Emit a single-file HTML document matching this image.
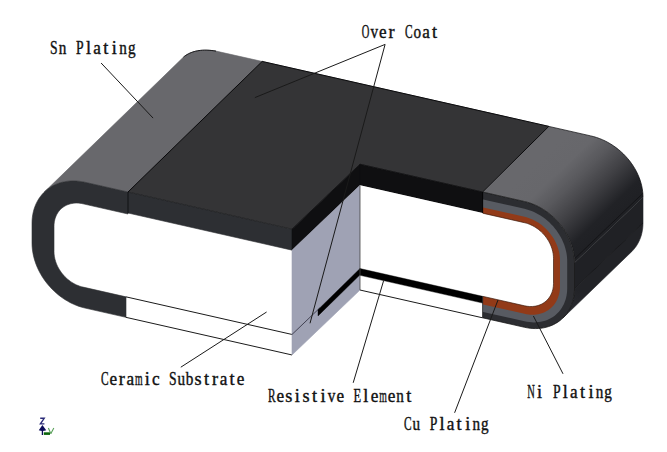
<!DOCTYPE html><html><head><meta charset="utf-8"><style>html,body{margin:0;padding:0;background:#fff;width:667px;height:452px;overflow:hidden}svg{display:block}</style></head><body><svg width="667" height="452" viewBox="0 0 667 452"><defs><linearGradient id="gR" gradientUnits="userSpaceOnUse" x1="502.6" y1="196.5" x2="570.7" y2="266.5"><stop offset="0" stop-color="#68686c"/><stop offset="0.22" stop-color="#67676b"/><stop offset="0.4" stop-color="#58585c"/><stop offset="0.61" stop-color="#404044"/><stop offset="0.85" stop-color="#212226"/><stop offset="1" stop-color="#1f2024"/></linearGradient><linearGradient id="gB" gradientUnits="userSpaceOnUse" x1="574.5" y1="288.6" x2="562.9" y2="318.0"><stop offset="0" stop-color="#222327"/><stop offset="1" stop-color="#2c2d32"/></linearGradient><clipPath id="cpR"><polygon points="482.00,181.87 796.00,253.02 796.00,463.02 482.00,391.87"/></clipPath></defs><rect width="667" height="452" fill="#fff"/>
<polygon points="128.00,192.00 85.00,182.26 83.34,181.91 81.69,181.61 80.03,181.36 78.39,181.17 76.74,181.03 75.11,180.95 73.49,180.91 71.87,180.93 70.27,181.01 68.69,181.13 67.12,181.31 65.57,181.54 64.04,181.83 62.52,182.16 61.03,182.55 59.57,182.99 58.12,183.49 56.71,184.03 55.32,184.62 53.96,185.26 52.63,185.95 51.34,186.69 50.07,187.48 48.84,188.31 47.65,189.19 46.49,190.11 45.37,191.08 44.29,192.09 183.50,57.10 184.67,56.18 185.90,55.33 187.16,54.54 188.48,53.82 189.84,53.16 191.25,52.57 192.71,52.04 194.22,51.58 195.77,51.18 197.38,50.85 199.02,50.58 200.72,50.38 202.46,50.24 204.25,50.17 206.09,50.16 207.98,50.22 209.91,50.34 211.90,50.53 213.92,50.78 216.00,51.10 262.20,61.46" fill="#68686c" stroke="#68686c" stroke-width="0.60" stroke-linejoin="round" />
<polygon points="128.00,192.00 292.00,229.16 360.00,164.22 482.60,192.00 548.80,126.40 262.20,61.46" fill="#343436" stroke="#343436" stroke-width="0.60" stroke-linejoin="round" />
<polygon points="482.60,192.00 524.50,201.50 527.30,202.21 530.10,203.08 532.88,204.10 535.63,205.27 538.34,206.59 541.01,208.05 543.63,209.64 546.19,211.37 548.69,213.22 551.10,215.19 553.43,217.28 555.67,219.47 557.82,221.77 559.86,224.15 561.78,226.63 563.59,229.18 565.28,231.80 566.84,234.49 568.26,237.23 569.55,240.01 570.69,242.83 571.69,245.68 572.55,248.54 573.25,251.42 573.79,254.29 574.19,257.16 574.42,260.01 574.50,262.83 643.00,197.22 642.92,194.40 642.67,191.55 642.26,188.69 641.69,185.81 640.96,182.94 640.07,180.07 639.02,177.23 637.82,174.41 636.47,171.62 634.98,168.89 633.35,166.20 631.59,163.58 629.70,161.02 627.68,158.55 625.55,156.16 623.31,153.87 620.96,151.67 618.53,149.59 616.00,147.61 613.39,145.76 610.71,144.04 607.97,142.44 605.18,140.98 602.34,139.67 599.46,138.50 596.56,137.48 593.63,136.61 590.70,135.89 548.80,126.40" fill="url(#gR)" />
<polygon points="574.50,262.83 574.50,288.63 643.00,223.02 643.00,197.22" fill="#202125" stroke="#202125" stroke-width="0.60" stroke-linejoin="round" />
<polygon points="574.50,288.63 574.48,289.87 574.44,291.09 574.36,292.32 574.25,293.53 574.12,294.73 573.95,295.92 573.75,297.10 573.52,298.27 573.26,299.42 572.97,300.56 572.65,301.69 572.30,302.80 571.92,303.90 571.51,304.98 571.08,306.04 570.61,307.08 570.12,308.11 569.59,309.12 569.04,310.10 568.47,311.07 567.86,312.02 567.23,312.94 566.57,313.85 565.89,314.73 565.18,315.59 564.45,316.42 563.69,317.23 562.91,318.02 630.87,252.41 631.69,251.63 632.48,250.82 633.25,249.98 633.99,249.12 634.71,248.24 635.40,247.34 636.06,246.41 636.69,245.47 637.29,244.50 637.87,243.51 638.41,242.51 638.93,241.48 639.42,240.43 639.87,239.37 640.30,238.29 640.70,237.20 641.06,236.09 641.40,234.96 641.70,233.82 641.97,232.66 642.21,231.50 642.42,230.32 642.60,229.13 642.74,227.92 642.86,226.71 642.94,225.49 642.98,224.26 643.00,223.02" fill="url(#gB)" stroke="url(#gB)" stroke-width="0.60" stroke-linejoin="round" />
<polyline points="574.50,258.83 643.00,193.22" fill="none" stroke="#0a0a0c" stroke-width="0.80" stroke-linejoin="round" opacity="0.7"/>
<polyline points="574.50,288.63 643.00,223.02" fill="none" stroke="#0a0a0c" stroke-width="0.80" stroke-linejoin="round" opacity="0.7"/>
<polygon points="128.00,192.00 85.00,182.26 82.03,181.67 79.07,181.24 76.12,180.99 73.21,180.91 70.33,181.00 67.50,181.26 64.72,181.69 62.00,182.29 59.36,183.06 56.80,183.99 54.33,185.08 51.96,186.33 49.68,187.73 47.52,189.29 45.48,190.98 43.56,192.82 41.78,194.79 40.12,196.89 38.61,199.11 37.25,201.44 36.03,203.88 34.97,206.42 34.07,209.04 33.33,211.75 32.75,214.54 32.33,217.39 32.08,220.29 32.00,223.25 32.00,243.05 32.08,246.04 32.33,249.06 32.75,252.09 33.33,255.14 34.07,258.19 34.97,261.23 36.03,264.24 37.25,267.23 38.61,270.18 40.12,273.08 41.78,275.93 43.56,278.71 45.48,281.42 47.52,284.04 49.68,286.57 51.96,289.01 54.33,291.33 56.80,293.54 59.36,295.63 62.00,297.60 64.72,299.43 67.50,301.12 70.33,302.66 73.21,304.05 76.12,305.30 79.07,306.38 82.03,307.30 85.00,308.06 126.00,317.35 126.00,296.85 83.00,287.10 81.37,286.69 79.75,286.18 78.14,285.59 76.55,284.91 74.97,284.15 73.42,283.31 71.90,282.38 70.42,281.38 68.97,280.31 67.57,279.16 66.22,277.95 64.92,276.68 63.68,275.35 62.49,273.96 61.38,272.53 60.33,271.05 59.35,269.53 58.44,267.97 57.62,266.38 56.87,264.77 56.21,263.13 55.63,261.48 55.13,259.82 54.73,258.15 54.41,256.48 54.18,254.82 54.05,253.17 54.00,251.53 54.00,226.23 54.05,224.62 54.18,223.03 54.41,221.47 54.73,219.94 55.13,218.46 55.63,217.02 56.21,215.63 56.87,214.30 57.62,213.02 58.44,211.81 59.35,210.66 60.33,209.58 61.38,208.58 62.49,207.65 63.68,206.80 64.92,206.03 66.22,205.35 67.57,204.75 68.97,204.24 70.42,203.82 71.90,203.50 73.42,203.26 74.97,203.12 76.55,203.07 78.14,203.11 79.75,203.25 81.37,203.48 83.00,203.80 128.00,214.00" fill="#2d2f33" stroke="#2d2f33" stroke-width="0.60" stroke-linejoin="round" />
<polygon points="128.00,192.00 292.00,229.16 292.00,250.16 128.00,213.00" fill="#2d2f33" stroke="#2d2f33" stroke-width="0.60" stroke-linejoin="round" />
<polyline points="126.00,296.85 292.00,334.46" fill="none" stroke="#000" stroke-width="0.90" stroke-linejoin="round" />
<polyline points="126.00,317.35 292.00,354.96" fill="none" stroke="#000" stroke-width="0.90" stroke-linejoin="round" />
<polyline points="128.00,192.00 128.00,213.00" fill="none" stroke="#0a0a0c" stroke-width="0.80" stroke-linejoin="round" />
<polygon points="292.00,229.16 292.00,250.16 360.00,185.22 360.00,164.22" fill="#0f0f11" stroke="#0f0f11" stroke-width="0.60" stroke-linejoin="round" />
<polygon points="292.00,250.16 292.00,354.96 360.00,290.02 360.00,185.22" fill="#9fa2b4" stroke="#9fa2b4" stroke-width="0.60" stroke-linejoin="round" />
<polyline points="292.00,334.46 320.00,307.72" fill="none" stroke="#2a2a3a" stroke-width="0.80" stroke-linejoin="round" />
<polygon points="318.00,309.63 318.00,315.93 360.00,274.82 360.00,268.52" fill="#000" stroke="#000" stroke-width="0.40" stroke-linejoin="round" />
<g clip-path="url(#cpR)"><polygon points="446.00,183.71 524.50,201.50 527.30,202.21 530.10,203.08 532.88,204.10 535.63,205.27 538.34,206.59 541.01,208.05 543.63,209.64 546.19,211.37 548.69,213.22 551.10,215.19 553.43,217.28 555.67,219.47 557.82,221.77 559.86,224.15 561.78,226.63 563.59,229.18 565.28,231.80 566.84,234.49 568.26,237.23 569.55,240.01 570.69,242.83 571.69,245.68 572.55,248.54 573.25,251.42 573.79,254.29 574.19,257.16 574.42,260.01 574.50,262.83 574.50,288.63 574.42,291.41 574.19,294.16 573.79,296.84 573.25,299.47 572.55,302.03 571.69,304.51 570.69,306.90 569.55,309.20 568.26,311.40 566.84,313.49 565.28,315.47 563.59,317.33 561.78,319.06 559.86,320.66 557.82,322.13 555.67,323.45 553.43,324.63 551.10,325.66 548.69,326.54 546.19,327.26 543.63,327.83 541.01,328.23 538.34,328.48 535.63,328.57 532.88,328.49 530.10,328.25 527.30,327.85 524.50,327.30 446.00,309.51" fill="#2c2d31" /><polygon points="446.00,191.01 524.50,208.80 526.89,209.41 529.28,210.15 531.65,211.02 534.00,212.02 536.32,213.15 538.60,214.39 540.84,215.75 543.03,217.22 545.15,218.81 547.22,220.49 549.21,222.27 551.12,224.15 552.95,226.11 554.69,228.15 556.34,230.26 557.88,232.44 559.32,234.68 560.66,236.97 561.87,239.31 562.97,241.69 563.95,244.10 564.80,246.53 565.53,248.97 566.13,251.43 566.60,253.88 566.93,256.33 567.13,258.76 567.20,261.17 567.20,288.27 567.13,290.65 566.93,292.99 566.60,295.29 566.13,297.53 565.53,299.72 564.80,301.83 563.95,303.88 562.97,305.84 561.87,307.72 560.66,309.51 559.32,311.20 557.88,312.79 556.34,314.27 554.69,315.63 552.95,316.88 551.12,318.02 549.21,319.02 547.22,319.90 545.15,320.65 543.03,321.27 540.84,321.75 538.60,322.10 536.32,322.31 534.00,322.38 531.65,322.32 529.28,322.11 526.89,321.77 524.50,321.30 446.00,303.51" fill="#585b62" /><polygon points="446.00,199.01 524.50,216.80 526.49,217.30 528.47,217.92 530.45,218.65 532.40,219.48 534.33,220.41 536.22,221.45 538.09,222.58 539.90,223.80 541.67,225.12 543.39,226.52 545.04,228.00 546.63,229.56 548.16,231.19 549.60,232.88 550.97,234.64 552.26,236.45 553.45,238.32 554.56,240.22 555.57,242.17 556.48,244.14 557.30,246.14 558.01,248.17 558.61,250.20 559.11,252.24 559.50,254.28 559.78,256.32 559.94,258.34 560.00,260.34 560.00,286.34 559.94,288.32 559.78,290.27 559.50,292.18 559.11,294.04 558.61,295.86 558.01,297.62 557.30,299.32 556.48,300.95 555.57,302.51 554.56,304.00 553.45,305.40 552.26,306.72 550.97,307.95 549.60,309.09 548.16,310.13 546.63,311.07 545.04,311.91 543.39,312.64 541.67,313.26 539.90,313.77 538.09,314.17 536.22,314.46 534.33,314.64 532.40,314.70 530.45,314.64 528.47,314.48 526.49,314.19 524.50,313.80 446.00,296.01" fill="#923a18" /></g>
<polygon points="360.00,185.42 524.50,222.70 526.13,223.11 527.75,223.62 529.36,224.21 530.95,224.89 532.53,225.65 534.08,226.50 535.60,227.42 537.08,228.42 538.53,229.50 539.93,230.64 541.28,231.85 542.58,233.12 543.82,234.45 545.01,235.84 546.12,237.27 547.17,238.75 548.15,240.28 549.06,241.83 549.88,243.42 550.63,245.04 551.29,246.67 551.87,248.32 552.37,249.98 552.77,251.65 553.09,253.32 553.32,254.98 553.45,256.63 553.50,258.27 553.50,283.37 553.45,284.99 553.32,286.58 553.09,288.13 552.77,289.66 552.37,291.14 551.87,292.58 551.29,293.97 550.63,295.30 549.88,296.58 549.06,297.79 548.15,298.94 547.17,300.02 546.12,301.02 545.01,301.95 543.82,302.80 542.58,303.57 541.28,304.25 539.93,304.85 538.53,305.36 537.08,305.78 535.60,306.11 534.08,306.34 532.53,306.48 530.95,306.53 529.36,306.49 527.75,306.35 526.13,306.12 524.50,305.80 360.00,268.52" fill="#ffffff" />
<polyline points="482.60,213.20 524.50,222.70 526.13,223.11 527.75,223.62 529.36,224.21 530.95,224.89 532.53,225.65 534.08,226.50 535.60,227.42 537.08,228.42 538.53,229.50 539.93,230.64 541.28,231.85 542.58,233.12 543.82,234.45 545.01,235.84 546.12,237.27 547.17,238.75 548.15,240.28 549.06,241.83 549.88,243.42 550.63,245.04 551.29,246.67 551.87,248.32 552.37,249.98 552.77,251.65 553.09,253.32 553.32,254.98 553.45,256.63 553.50,258.27 553.50,283.37 553.45,284.99 553.32,286.58 553.09,288.13 552.77,289.66 552.37,291.14 551.87,292.58 551.29,293.97 550.63,295.30 549.88,296.58 549.06,297.79 548.15,298.94 547.17,300.02 546.12,301.02 545.01,301.95 543.82,302.80 542.58,303.57 541.28,304.25 539.93,304.85 538.53,305.36 537.08,305.78 535.60,306.11 534.08,306.34 532.53,306.48 530.95,306.53 529.36,306.49 527.75,306.35 526.13,306.12 524.50,305.80 482.60,296.30" fill="none" stroke="#3a1a0c" stroke-width="0.90" stroke-linejoin="round" opacity="0.75"/>
<polyline points="482.60,192.00 524.50,201.50 527.30,202.21 530.10,203.08 532.88,204.10 535.63,205.27 538.34,206.59 541.01,208.05 543.63,209.64 546.19,211.37 548.69,213.22 551.10,215.19 553.43,217.28 555.67,219.47 557.82,221.77 559.86,224.15 561.78,226.63 563.59,229.18 565.28,231.80 566.84,234.49 568.26,237.23 569.55,240.01 570.69,242.83 571.69,245.68 572.55,248.54 573.25,251.42 573.79,254.29 574.19,257.16 574.42,260.01 574.50,262.83 574.50,288.63 574.42,291.41 574.19,294.16 573.79,296.84 573.25,299.47 572.55,302.03 571.69,304.51 570.69,306.90 569.55,309.20 568.26,311.40 566.84,313.49 565.28,315.47 563.59,317.33 561.78,319.06 559.86,320.66 557.82,322.13 555.67,323.45 553.43,324.63 551.10,325.66 548.69,326.54 546.19,327.26 543.63,327.83 541.01,328.23 538.34,328.48 535.63,328.57 532.88,328.49 530.10,328.25 527.30,327.85 524.50,327.30 482.60,317.80" fill="none" stroke="#111" stroke-width="0.90" stroke-linejoin="round" opacity="0.8"/>
<polygon points="360.00,164.22 482.60,192.00 482.60,213.00 360.00,185.22" fill="#0f0f11" stroke="#0f0f11" stroke-width="0.60" stroke-linejoin="round" />
<polyline points="482.60,192.00 482.60,213.00" fill="none" stroke="#000" stroke-width="0.80" stroke-linejoin="round" />
<polygon points="360.00,185.22 482.60,213.00 482.60,317.80 360.00,290.02" fill="#ffffff" />
<polygon points="360.00,268.52 482.60,296.30 482.60,303.10 360.00,275.32" fill="#000" stroke="#000" stroke-width="0.40" stroke-linejoin="round" />
<polyline points="360.00,290.02 482.60,317.80" fill="none" stroke="#000" stroke-width="0.90" stroke-linejoin="round" />
<polyline points="360.00,185.22 360.00,290.02" fill="none" stroke="#444" stroke-width="0.80" stroke-linejoin="round" />
<polyline points="482.60,296.30 482.60,317.80" fill="none" stroke="#222" stroke-width="0.80" stroke-linejoin="round" />
<polyline points="262.20,61.46 548.80,126.40" fill="none" stroke="#0a0a0c" stroke-width="1.00" stroke-linejoin="round" />
<polyline points="183.50,57.10 184.67,56.18 185.90,55.33 187.16,54.54 188.48,53.82 189.84,53.16 191.25,52.57 192.71,52.04 194.22,51.58 195.77,51.18 197.38,50.85 199.02,50.58 200.72,50.38 202.46,50.24 204.25,50.17 206.09,50.16 207.98,50.22 209.91,50.34 211.90,50.53 213.92,50.78 216.00,51.10" fill="none" stroke="#0a0a0c" stroke-width="0.90" stroke-linejoin="round" />
<polyline points="128.00,192.00 262.20,61.46" fill="none" stroke="#0a0a0c" stroke-width="1.00" stroke-linejoin="round" />
<polyline points="482.60,192.00 548.80,126.40" fill="none" stroke="#0a0a0c" stroke-width="1.00" stroke-linejoin="round" />
<polyline points="128.00,192.00 292.00,229.16" fill="none" stroke="#0a0a0c" stroke-width="0.60" stroke-linejoin="round" opacity="0.6"/>
<polyline points="292.00,229.16 360.00,164.22 482.60,192.00" fill="none" stroke="#0a0a0c" stroke-width="0.70" stroke-linejoin="round" opacity="0.7"/>
<polyline points="643.00,197.22 642.92,194.40 642.67,191.55 642.26,188.69 641.69,185.81 640.96,182.94 640.07,180.07 639.02,177.23 637.82,174.41 636.47,171.62 634.98,168.89 633.35,166.20 631.59,163.58 629.70,161.02 627.68,158.55 625.55,156.16 623.31,153.87 620.96,151.67 618.53,149.59 616.00,147.61 613.39,145.76 610.71,144.04 607.97,142.44 605.18,140.98 602.34,139.67 599.46,138.50 596.56,137.48 593.63,136.61 590.70,135.89 548.80,126.40" fill="none" stroke="#0a0a0c" stroke-width="0.90" stroke-linejoin="round" opacity="0.8"/>
<line x1="101.1" y1="63.0" x2="153.1" y2="118.1" stroke="#1a1a1a" stroke-width="1"/>
<line x1="385.1" y1="44.4" x2="254.9" y2="97.6" stroke="#1a1a1a" stroke-width="1"/>
<line x1="385.1" y1="44.4" x2="310.0" y2="323.3" stroke="#1a1a1a" stroke-width="1"/>
<line x1="266.6" y1="312.0" x2="180.8" y2="367.2" stroke="#1a1a1a" stroke-width="1"/>
<line x1="383.7" y1="280.4" x2="353.2" y2="382.8" stroke="#1a1a1a" stroke-width="1"/>
<line x1="498.0" y1="300.0" x2="454.6" y2="412.8" stroke="#1a1a1a" stroke-width="1"/>
<line x1="533.4" y1="316.0" x2="563.0" y2="373.8" stroke="#1a1a1a" stroke-width="1"/>
<text transform="translate(53.92,53.90) scale(0.751,1)" text-anchor="middle" font-family="Liberation Serif" font-size="18.2" fill="#111" stroke="#111" stroke-width="0.4">S</text>
<text transform="translate(62.56,53.90) scale(0.835,1)" text-anchor="middle" font-family="Liberation Serif" font-size="18.2" fill="#111" stroke="#111" stroke-width="0.4">n</text>
<text transform="translate(79.84,53.90) scale(0.751,1)" text-anchor="middle" font-family="Liberation Serif" font-size="18.2" fill="#111" stroke="#111" stroke-width="0.4">P</text>
<text transform="translate(88.48,53.90) scale(1.000,1)" text-anchor="middle" font-family="Liberation Serif" font-size="18.2" fill="#111" stroke="#111" stroke-width="0.4">l</text>
<text transform="translate(97.12,53.90) scale(0.941,1)" text-anchor="middle" font-family="Liberation Serif" font-size="18.2" fill="#111" stroke="#111" stroke-width="0.4">a</text>
<text transform="translate(105.76,53.90) scale(1.000,1)" text-anchor="middle" font-family="Liberation Serif" font-size="18.2" fill="#111" stroke="#111" stroke-width="0.4">t</text>
<text transform="translate(114.40,53.90) scale(1.000,1)" text-anchor="middle" font-family="Liberation Serif" font-size="18.2" fill="#111" stroke="#111" stroke-width="0.4">i</text>
<text transform="translate(123.04,53.90) scale(0.835,1)" text-anchor="middle" font-family="Liberation Serif" font-size="18.2" fill="#111" stroke="#111" stroke-width="0.4">n</text>
<text transform="translate(131.68,53.90) scale(0.835,1)" text-anchor="middle" font-family="Liberation Serif" font-size="18.2" fill="#111" stroke="#111" stroke-width="0.4">g</text>
<text transform="translate(365.61,37.90) scale(0.578,1)" text-anchor="middle" font-family="Liberation Serif" font-size="18.2" fill="#111" stroke="#111" stroke-width="0.4">O</text>
<text transform="translate(374.23,37.90) scale(0.835,1)" text-anchor="middle" font-family="Liberation Serif" font-size="18.2" fill="#111" stroke="#111" stroke-width="0.4">v</text>
<text transform="translate(382.86,37.90) scale(0.941,1)" text-anchor="middle" font-family="Liberation Serif" font-size="18.2" fill="#111" stroke="#111" stroke-width="0.4">e</text>
<text transform="translate(391.48,37.90) scale(1.000,1)" text-anchor="middle" font-family="Liberation Serif" font-size="18.2" fill="#111" stroke="#111" stroke-width="0.4">r</text>
<text transform="translate(408.72,37.90) scale(0.626,1)" text-anchor="middle" font-family="Liberation Serif" font-size="18.2" fill="#111" stroke="#111" stroke-width="0.4">C</text>
<text transform="translate(417.34,37.90) scale(0.835,1)" text-anchor="middle" font-family="Liberation Serif" font-size="18.2" fill="#111" stroke="#111" stroke-width="0.4">o</text>
<text transform="translate(425.97,37.90) scale(0.941,1)" text-anchor="middle" font-family="Liberation Serif" font-size="18.2" fill="#111" stroke="#111" stroke-width="0.4">a</text>
<text transform="translate(434.59,37.90) scale(1.000,1)" text-anchor="middle" font-family="Liberation Serif" font-size="18.2" fill="#111" stroke="#111" stroke-width="0.4">t</text>
<text transform="translate(104.84,385.30) scale(0.626,1)" text-anchor="middle" font-family="Liberation Serif" font-size="18.2" fill="#111" stroke="#111" stroke-width="0.4">C</text>
<text transform="translate(113.32,385.30) scale(0.941,1)" text-anchor="middle" font-family="Liberation Serif" font-size="18.2" fill="#111" stroke="#111" stroke-width="0.4">e</text>
<text transform="translate(121.81,385.30) scale(1.000,1)" text-anchor="middle" font-family="Liberation Serif" font-size="18.2" fill="#111" stroke="#111" stroke-width="0.4">r</text>
<text transform="translate(130.29,385.30) scale(0.941,1)" text-anchor="middle" font-family="Liberation Serif" font-size="18.2" fill="#111" stroke="#111" stroke-width="0.4">a</text>
<text transform="translate(138.77,385.30) scale(0.537,1)" text-anchor="middle" font-family="Liberation Serif" font-size="18.2" fill="#111" stroke="#111" stroke-width="0.4">m</text>
<text transform="translate(147.25,385.30) scale(1.000,1)" text-anchor="middle" font-family="Liberation Serif" font-size="18.2" fill="#111" stroke="#111" stroke-width="0.4">i</text>
<text transform="translate(155.74,385.30) scale(0.941,1)" text-anchor="middle" font-family="Liberation Serif" font-size="18.2" fill="#111" stroke="#111" stroke-width="0.4">c</text>
<text transform="translate(172.70,385.30) scale(0.751,1)" text-anchor="middle" font-family="Liberation Serif" font-size="18.2" fill="#111" stroke="#111" stroke-width="0.4">S</text>
<text transform="translate(181.18,385.30) scale(0.835,1)" text-anchor="middle" font-family="Liberation Serif" font-size="18.2" fill="#111" stroke="#111" stroke-width="0.4">u</text>
<text transform="translate(189.66,385.30) scale(0.835,1)" text-anchor="middle" font-family="Liberation Serif" font-size="18.2" fill="#111" stroke="#111" stroke-width="0.4">b</text>
<text transform="translate(198.15,385.30) scale(1.000,1)" text-anchor="middle" font-family="Liberation Serif" font-size="18.2" fill="#111" stroke="#111" stroke-width="0.4">s</text>
<text transform="translate(206.63,385.30) scale(1.000,1)" text-anchor="middle" font-family="Liberation Serif" font-size="18.2" fill="#111" stroke="#111" stroke-width="0.4">t</text>
<text transform="translate(215.11,385.30) scale(1.000,1)" text-anchor="middle" font-family="Liberation Serif" font-size="18.2" fill="#111" stroke="#111" stroke-width="0.4">r</text>
<text transform="translate(223.59,385.30) scale(0.941,1)" text-anchor="middle" font-family="Liberation Serif" font-size="18.2" fill="#111" stroke="#111" stroke-width="0.4">a</text>
<text transform="translate(232.08,385.30) scale(1.000,1)" text-anchor="middle" font-family="Liberation Serif" font-size="18.2" fill="#111" stroke="#111" stroke-width="0.4">t</text>
<text transform="translate(240.56,385.30) scale(0.941,1)" text-anchor="middle" font-family="Liberation Serif" font-size="18.2" fill="#111" stroke="#111" stroke-width="0.4">e</text>
<text transform="translate(271.68,401.60) scale(0.626,1)" text-anchor="middle" font-family="Liberation Serif" font-size="18.2" fill="#111" stroke="#111" stroke-width="0.4">R</text>
<text transform="translate(280.25,401.60) scale(0.941,1)" text-anchor="middle" font-family="Liberation Serif" font-size="18.2" fill="#111" stroke="#111" stroke-width="0.4">e</text>
<text transform="translate(288.81,401.60) scale(1.000,1)" text-anchor="middle" font-family="Liberation Serif" font-size="18.2" fill="#111" stroke="#111" stroke-width="0.4">s</text>
<text transform="translate(297.38,401.60) scale(1.000,1)" text-anchor="middle" font-family="Liberation Serif" font-size="18.2" fill="#111" stroke="#111" stroke-width="0.4">i</text>
<text transform="translate(305.94,401.60) scale(1.000,1)" text-anchor="middle" font-family="Liberation Serif" font-size="18.2" fill="#111" stroke="#111" stroke-width="0.4">s</text>
<text transform="translate(314.51,401.60) scale(1.000,1)" text-anchor="middle" font-family="Liberation Serif" font-size="18.2" fill="#111" stroke="#111" stroke-width="0.4">t</text>
<text transform="translate(323.07,401.60) scale(1.000,1)" text-anchor="middle" font-family="Liberation Serif" font-size="18.2" fill="#111" stroke="#111" stroke-width="0.4">i</text>
<text transform="translate(331.64,401.60) scale(0.835,1)" text-anchor="middle" font-family="Liberation Serif" font-size="18.2" fill="#111" stroke="#111" stroke-width="0.4">v</text>
<text transform="translate(340.20,401.60) scale(0.941,1)" text-anchor="middle" font-family="Liberation Serif" font-size="18.2" fill="#111" stroke="#111" stroke-width="0.4">e</text>
<text transform="translate(357.33,401.60) scale(0.684,1)" text-anchor="middle" font-family="Liberation Serif" font-size="18.2" fill="#111" stroke="#111" stroke-width="0.4">E</text>
<text transform="translate(365.89,401.60) scale(1.000,1)" text-anchor="middle" font-family="Liberation Serif" font-size="18.2" fill="#111" stroke="#111" stroke-width="0.4">l</text>
<text transform="translate(374.46,401.60) scale(0.941,1)" text-anchor="middle" font-family="Liberation Serif" font-size="18.2" fill="#111" stroke="#111" stroke-width="0.4">e</text>
<text transform="translate(383.02,401.60) scale(0.537,1)" text-anchor="middle" font-family="Liberation Serif" font-size="18.2" fill="#111" stroke="#111" stroke-width="0.4">m</text>
<text transform="translate(391.59,401.60) scale(0.941,1)" text-anchor="middle" font-family="Liberation Serif" font-size="18.2" fill="#111" stroke="#111" stroke-width="0.4">e</text>
<text transform="translate(400.15,401.60) scale(0.835,1)" text-anchor="middle" font-family="Liberation Serif" font-size="18.2" fill="#111" stroke="#111" stroke-width="0.4">n</text>
<text transform="translate(408.72,401.60) scale(1.000,1)" text-anchor="middle" font-family="Liberation Serif" font-size="18.2" fill="#111" stroke="#111" stroke-width="0.4">t</text>
<text transform="translate(531.08,397.70) scale(0.578,1)" text-anchor="middle" font-family="Liberation Serif" font-size="18.2" fill="#111" stroke="#111" stroke-width="0.4">N</text>
<text transform="translate(539.64,397.70) scale(1.000,1)" text-anchor="middle" font-family="Liberation Serif" font-size="18.2" fill="#111" stroke="#111" stroke-width="0.4">i</text>
<text transform="translate(556.76,397.70) scale(0.751,1)" text-anchor="middle" font-family="Liberation Serif" font-size="18.2" fill="#111" stroke="#111" stroke-width="0.4">P</text>
<text transform="translate(565.32,397.70) scale(1.000,1)" text-anchor="middle" font-family="Liberation Serif" font-size="18.2" fill="#111" stroke="#111" stroke-width="0.4">l</text>
<text transform="translate(573.88,397.70) scale(0.941,1)" text-anchor="middle" font-family="Liberation Serif" font-size="18.2" fill="#111" stroke="#111" stroke-width="0.4">a</text>
<text transform="translate(582.44,397.70) scale(1.000,1)" text-anchor="middle" font-family="Liberation Serif" font-size="18.2" fill="#111" stroke="#111" stroke-width="0.4">t</text>
<text transform="translate(591.00,397.70) scale(1.000,1)" text-anchor="middle" font-family="Liberation Serif" font-size="18.2" fill="#111" stroke="#111" stroke-width="0.4">i</text>
<text transform="translate(599.56,397.70) scale(0.835,1)" text-anchor="middle" font-family="Liberation Serif" font-size="18.2" fill="#111" stroke="#111" stroke-width="0.4">n</text>
<text transform="translate(608.12,397.70) scale(0.835,1)" text-anchor="middle" font-family="Liberation Serif" font-size="18.2" fill="#111" stroke="#111" stroke-width="0.4">g</text>
<text transform="translate(407.78,429.80) scale(0.626,1)" text-anchor="middle" font-family="Liberation Serif" font-size="18.2" fill="#111" stroke="#111" stroke-width="0.4">C</text>
<text transform="translate(416.34,429.80) scale(0.835,1)" text-anchor="middle" font-family="Liberation Serif" font-size="18.2" fill="#111" stroke="#111" stroke-width="0.4">u</text>
<text transform="translate(433.46,429.80) scale(0.751,1)" text-anchor="middle" font-family="Liberation Serif" font-size="18.2" fill="#111" stroke="#111" stroke-width="0.4">P</text>
<text transform="translate(442.02,429.80) scale(1.000,1)" text-anchor="middle" font-family="Liberation Serif" font-size="18.2" fill="#111" stroke="#111" stroke-width="0.4">l</text>
<text transform="translate(450.58,429.80) scale(0.941,1)" text-anchor="middle" font-family="Liberation Serif" font-size="18.2" fill="#111" stroke="#111" stroke-width="0.4">a</text>
<text transform="translate(459.14,429.80) scale(1.000,1)" text-anchor="middle" font-family="Liberation Serif" font-size="18.2" fill="#111" stroke="#111" stroke-width="0.4">t</text>
<text transform="translate(467.70,429.80) scale(1.000,1)" text-anchor="middle" font-family="Liberation Serif" font-size="18.2" fill="#111" stroke="#111" stroke-width="0.4">i</text>
<text transform="translate(476.26,429.80) scale(0.835,1)" text-anchor="middle" font-family="Liberation Serif" font-size="18.2" fill="#111" stroke="#111" stroke-width="0.4">n</text>
<text transform="translate(484.82,429.80) scale(0.835,1)" text-anchor="middle" font-family="Liberation Serif" font-size="18.2" fill="#111" stroke="#111" stroke-width="0.4">g</text>
<polyline points="40.2,418.3 44.2,418.3 40.4,423.9 44.4,423.9" fill="none" stroke="#2b2b78" stroke-width="1.4" stroke-linejoin="miter"/>
<path d="M42.4,425 L46.2,430.2 Q42.4,431.8 38.8,430.2 Z" fill="#0c0c58"/>
<line x1="42.4" y1="430" x2="42.4" y2="435" stroke="#0c0c58" stroke-width="1.3"/>
<rect x="43.8" y="432.3" width="6.2" height="2.6" fill="#0a640a"/>
<polyline points="48.4,428 50.8,433.6" fill="none" stroke="#5aa05a" stroke-width="1.1"/>
<polyline points="53.8,428 50.8,433.8" fill="none" stroke="#5aa05a" stroke-width="1.1"/></svg></body></html>
